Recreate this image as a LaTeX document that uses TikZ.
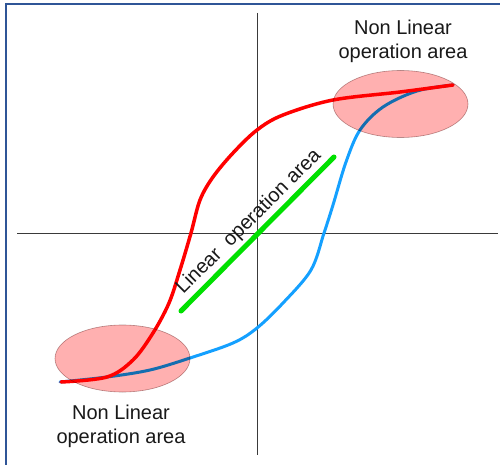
\documentclass[tikz,border=0pt]{standalone}
\usepackage{fontspec}
\setmainfont{Liberation Sans}
\usetikzlibrary{shapes.geometric}
\definecolor{framecol}{HTML}{2F5597}
\definecolor{axiscol}{HTML}{3A3A3A}
\definecolor{redc}{HTML}{FF0000}
\definecolor{bluec}{HTML}{14A0FF}
\definecolor{greenc}{HTML}{00E000}
\definecolor{pinkfill}{HTML}{FFB0B0}
\definecolor{pinkdraw}{HTML}{B89A9A}
\tikzset{
  axisline/.style={draw=axiscol, line width=1pt},
  areaell/.style={draw=pinkdraw, line width=0.6pt, fill=pinkfill, blend mode=multiply},
  lbl/.style={font=\fontsize{20}{24}\selectfont, align=center, inner sep=0pt, text=black!90},
  curve/.style={line width=3.2pt, line cap=round, line join=round}
}
\begin{document}
\begin{tikzpicture}[x=1pt,y=-1pt]
\useasboundingbox (0,0) rectangle (500,465);
\fill[white] (0,0) rectangle (500,465);
% frame
\draw[framecol, line width=2pt] (6,466) -- (6,4) -- (501,4);
% axes
\coordinate (vt) at (257,13);
\coordinate (vb) at (257,455);
\coordinate (hl) at (17,233);
\coordinate (hr) at (498,233);
\draw[axisline] (vt) -- (vb);
\draw[axisline] (hl) -- (hr);
% green linear segment
\coordinate (g1) at (181,311);
\coordinate (g2) at (334,157);
\draw[greenc, line width=5pt, line cap=round] (g1) -- (g2);
% blue curve
\draw[bluec, curve, line width=3pt] plot[smooth, tension=0.55] coordinates {(60,382) (107,377) (150,370) (190,358) (233,343) (257,328) (283,303) (311,270) (324,233) (333,205) (346,162) (360,130) (383,107) (417,91) (453,85)};
% red curve
\draw[redc, curve, line width=3.5pt] plot[smooth, tension=0.55] coordinates {(61,382) (107,377) (133,360) (153,333) (169,303) (180,270) (191,233) (200,200) (213,177) (233,153) (257,130) (283,115) (333,100) (400,92) (453,85)};
% ellipses (multiply blend)
\node[areaell, ellipse, minimum width=135pt, minimum height=67pt, inner sep=0pt] (etop) at (400.5,104) {};
\node[areaell, ellipse, minimum width=135pt, minimum height=67pt, inner sep=0pt] (ebot) at (122.5,358.5) {};
% labels
\node[lbl] (ltop) at (403,41) {Non Linear\\operation area};
\node[lbl] (lbot) at (121,426) {Non Linear\\operation area};
\node[lbl, rotate=45] (lmid) at (249,222) {Linear\ \ operation area};
\end{tikzpicture}
\end{document}
